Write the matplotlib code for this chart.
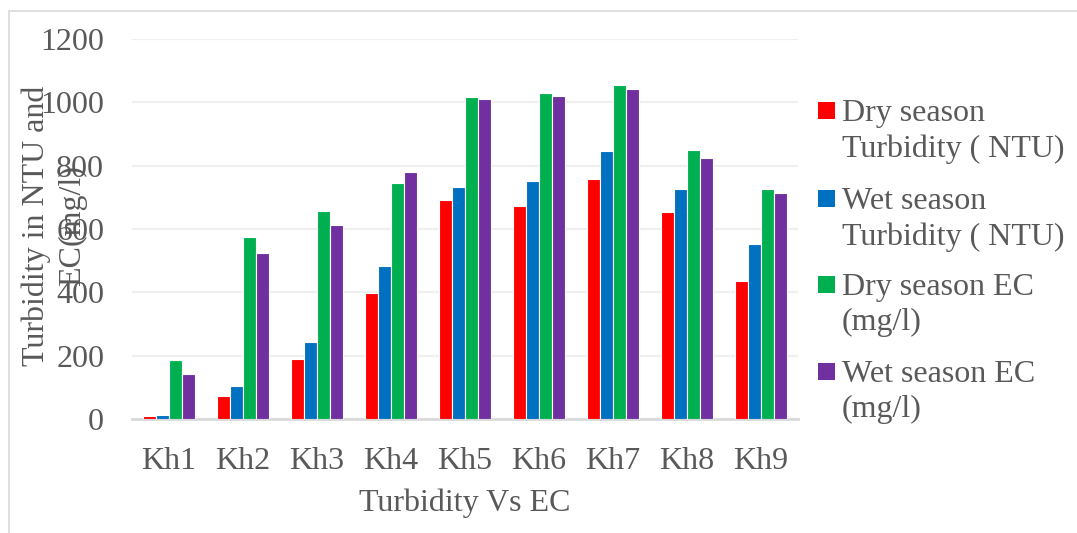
import numpy as np
import matplotlib.pyplot as plt
from matplotlib.patches import Rectangle

# sampling sites and measured values
sites = ["Kh1", "Kh2", "Kh3", "Kh4", "Kh5", "Kh6", "Kh7", "Kh8", "Kh9"]
dry_turbidity = [8, 74, 189, 399, 693, 673, 759, 654, 437]
wet_turbidity = [12, 103, 243, 484, 733, 751, 846, 725, 554]
dry_ec = [187, 576, 658, 744, 1018, 1028, 1054, 851, 726]
wet_ec = [142, 524, 612, 779, 1011, 1021, 1042, 823, 715]

series_names = [
    "Dry season\nTurbidity ( NTU)",
    "Wet season\nTurbidity ( NTU)",
    "Dry season EC\n(mg/l)",
    "Wet season EC\n(mg/l)",
]
colors = ["#FF0000", "#0070C0", "#00B050", "#7030A0"]

W, H = 1077, 533
txt = "#595959"
fs = 23

plt.rcParams["font.family"] = ["Liberation Serif", "DejaVu Serif"]

fig = plt.figure(figsize=(W / 100, H / 100), dpi=100)
ax = fig.add_axes([132 / W, 1 - 419 / H, (798 - 132) / W, (419 - 39) / H])

# outer frame of the chart area
fig.patches.append(Rectangle((9 / W, -0.1), 1.2, 1.1 - 11 / H, transform=fig.transFigure,
                             fill=False, edgecolor="#D9D9D9", linewidth=1.2, zorder=0))

x = np.arange(len(sites))
width = 0.1725
all_series = [dry_turbidity, wet_turbidity, dry_ec, wet_ec]
for i, (vals, c) in enumerate(zip(all_series, colors)):
    ax.bar(x + (i - 1.5) * width, vals, width, color=c, edgecolor="white",
           linewidth=0.8, zorder=3)

ax.set_xlim(-0.5, len(sites) - 0.5)
ax.set_ylim(0, 1200)
ax.set_yticks(range(0, 1201, 200))
ax.set_xticks(x)
ax.set_xticklabels(sites)
ax.grid(axis="y", color="#EFEFEF", linewidth=1.6, zorder=0)
ax.set_axisbelow(True)
for s in ["top", "right", "left"]:
    ax.spines[s].set_visible(False)
ax.spines["bottom"].set_color("#D9D9D9")
ax.spines["bottom"].set_linewidth(2)
ax.tick_params(axis="both", length=0, labelsize=fs, labelcolor=txt)
ax.tick_params(axis="y", pad=20)
ax.tick_params(axis="x", pad=20)

ax.set_xlabel("Turbidity Vs EC", fontsize=fs, color=txt, labelpad=9)
fig.text(54 / W, 1 - 226 / H, "Turbidity in NTU and\nEC(mg/l)", rotation=90,
         ha="center", va="center", multialignment="center", fontsize=fs,
         color=txt, linespacing=1.3)

# legend on the right, square aligned with the first text line
top_y = [111, 199, 285, 372]
for name, c, yc in zip(series_names, colors, top_y):
    fig.patches.append(Rectangle((818 / W, 1 - (yc + 8) / H), 17 / W, 17 / H,
                                 transform=fig.transFigure, facecolor=c,
                                 edgecolor="none"))
    fig.text(842 / W, 1 - (yc - 12) / H, name, ha="left", va="top",
             fontsize=fs, color=txt, linespacing=1.27)

fig.savefig("out.png", dpi=100)
